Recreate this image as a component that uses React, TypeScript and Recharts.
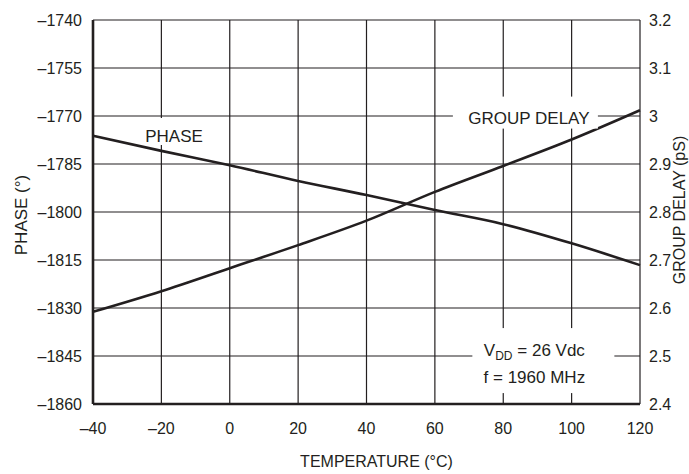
import {
  CartesianGrid,
  Label,
  Line,
  LineChart,
  ReferenceDot,
  XAxis,
  YAxis,
} from "recharts";

const temperature = [-40, -20, 0, 20, 40, 60, 80, 100, 120];
const phase = [-1776.2, -1780.9, -1785.4, -1790.3, -1794.7, -1799.4, -1803.8, -1809.8, -1816.6];
const groupDelay = [2.592, 2.635, 2.683, 2.731, 2.782, 2.842, 2.896, 2.951, 3.012];

const tempTicks = [-40, -20, 0, 20, 40, 60, 80, 100, 120];
const phaseTicks = [-1860, -1845, -1830, -1815, -1800, -1785, -1770, -1755, -1740];
const delayTicks = [2.4, 2.5, 2.6, 2.7, 2.8, 2.9, 3.0, 3.1, 3.2];

const data = temperature.map((t, i) => ({
  temp: t,
  phase: phase[i],
  delay: groupDelay[i],
}));

const ink = "#231f20";
const font = "'Liberation Sans', Arial, sans-serif";
const tickStyle = { fontSize: 16, fill: ink, fontFamily: font };
const dash = (v: number) => String(v).replace("-", "\u2013");

// white box with text, used to cut the grid behind the notes
function Note(props: any) {
  const { cx, cy, box, children } = props;
  return (
    <g>
      <rect x={cx + box[0]} y={cy + box[1]} width={box[2]} height={box[3]} fill="#fff" />
      <text fontFamily={font} fontSize={17} fill={ink} textAnchor="middle">
        {children}
      </text>
    </g>
  );
}

export default function App() {
  return (
    <div style={{ position: "absolute", left: 0, top: 0 }}>
      <LineChart
        width={689}
        height={474}
        data={data}
        margin={{ top: 20, right: 0, bottom: 0, left: 0 }}
      >
        <CartesianGrid yAxisId="phase" stroke={ink} strokeWidth={1.2} fill="none" />
        <XAxis
          dataKey="temp"
          type="number"
          domain={[-40, 120]}
          ticks={tempTicks}
          interval={0}
          height={70}
          tickSize={0}
          tickMargin={19}
          tickLine={false}
          axisLine={{ stroke: ink, strokeWidth: 2.6 }}
          tick={tickStyle}
          tickFormatter={dash}
        >
          <Label
            content={({ viewBox }: any) => (
              <text
                x={viewBox.x + viewBox.width / 2 + 10}
                y={viewBox.y + 63}
                textAnchor="middle"
                fontFamily={font}
                fontSize={16}
                fill={ink}
              >
                TEMPERATURE (°C)
              </text>
            )}
          />
        </XAxis>
        <YAxis
          yAxisId="phase"
          orientation="left"
          domain={[-1860, -1740]}
          ticks={phaseTicks}
          interval={0}
          width={93}
          tickSize={0}
          tickMargin={11}
          tickLine={false}
          axisLine={{ stroke: ink, strokeWidth: 2.6 }}
          tick={tickStyle}
          tickFormatter={dash}
        >
          <Label
            content={({ viewBox }: any) => (
              <text
                transform={`translate(27, ${viewBox.y + viewBox.height / 2 + 3}) rotate(-90)`}
                textAnchor="middle"
                fontFamily={font}
                fontSize={17}
                fill={ink}
              >
                PHASE (°)
              </text>
            )}
          />
        </YAxis>
        <YAxis
          yAxisId="delay"
          orientation="right"
          domain={[2.4, 3.2]}
          ticks={delayTicks}
          interval={0}
          width={49}
          tickSize={0}
          tickMargin={9}
          tickLine={false}
          axisLine={false}
          tick={tickStyle}
        >
          <Label
            content={({ viewBox }: any) => (
              <text
                transform={`translate(${viewBox.x + 45}, ${viewBox.y + viewBox.height / 2 - 2}) rotate(-90)`}
                textAnchor="middle"
                fontFamily={font}
                fontSize={16}
                fill={ink}
              >
                GROUP DELAY (pS)
              </text>
            )}
          />
        </YAxis>
        <ReferenceDot
          yAxisId="phase"
          x={-16.3}
          y={-1776.25}
          ifOverflow="visible"
          shape={(p: any) => (
            <Note cx={p.cx} cy={p.cy} box={[-31, -18, 63, 27]}>
              <tspan x={p.cx} y={p.cy + 6}>PHASE</tspan>
            </Note>
          )}
        />
        <ReferenceDot
          yAxisId="phase"
          x={87.5}
          y={-1770.5}
          ifOverflow="visible"
          shape={(p: any) => (
            <Note cx={p.cx} cy={p.cy} box={[-76, -21, 145, 32]}>
              <tspan x={p.cx} y={p.cy + 6}>GROUP DELAY</tspan>
            </Note>
          )}
        />
        <ReferenceDot
          yAxisId="phase"
          x={89.1}
          y={-1846.9}
          ifOverflow="visible"
          shape={(p: any) => (
            <Note cx={p.cx} cy={p.cy} box={[-62, -34, 142, 65]}>
              <tspan x={p.cx} y={p.cy - 6}>
                V<tspan fontSize={12} dy={4}>DD</tspan>
                <tspan dy={-4}> = 26 Vdc</tspan>
              </tspan>
              <tspan x={p.cx} y={p.cy + 21}>f = 1960 MHz</tspan>
            </Note>
          )}
        />
        <Line
          yAxisId="phase"
          type="monotone"
          dataKey="phase"
          stroke={ink}
          strokeWidth={2.6}
          dot={false}
          isAnimationActive={false}
        />
        <Line
          yAxisId="delay"
          type="monotone"
          dataKey="delay"
          stroke={ink}
          strokeWidth={2.6}
          dot={false}
          isAnimationActive={false}
        />
      </LineChart>
    </div>
  );
}
